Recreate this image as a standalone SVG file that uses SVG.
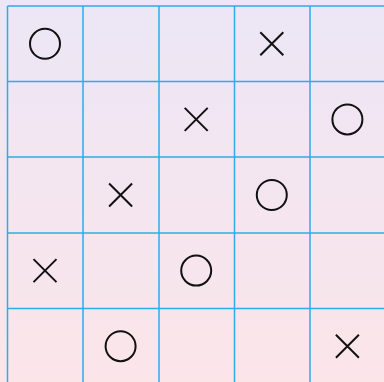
<svg xmlns="http://www.w3.org/2000/svg" width="384" height="382" viewBox="0 0 384 382">
<defs>
<linearGradient id="bg" x1="0" y1="0" x2="0" y2="1">
<stop offset="0" stop-color="#ece6f6"/>
<stop offset="1" stop-color="#fbe5e9"/>
</linearGradient>
<style>
.g{stroke:#2aaee6;stroke-width:1.5;fill:none}
.o{fill:none;stroke:#111;stroke-width:2}
.x{stroke:#111;stroke-width:2;fill:none}
</style>
</defs>
<rect x="0" y="0" width="384" height="382" fill="url(#bg)"/>
<g id="grid" class="g">
<line x1="7.5" y1="6" x2="7.5" y2="382"/>
<line x1="83" y1="6" x2="83" y2="382"/>
<line x1="159" y1="6" x2="159" y2="382"/>
<line x1="234.5" y1="6" x2="234.5" y2="382"/>
<line x1="310" y1="6" x2="310" y2="382"/>
<line x1="7.5" y1="6" x2="384" y2="6"/>
<line x1="7.5" y1="81.5" x2="384" y2="81.5"/>
<line x1="7.5" y1="157" x2="384" y2="157"/>
<line x1="7.5" y1="233" x2="384" y2="233"/>
<line x1="7.5" y1="308.5" x2="384" y2="308.5"/>
</g>
<g id="marks">
<circle id="o1" class="o" cx="45" cy="43.8" r="15"/>
<path id="x1" class="x" d="M260.3 32.3L283.3 55.3M283.3 32.3L260.3 55.3"/>
<path id="x2" class="x" d="M184.7 107.9L207.7 130.9M207.7 107.9L184.7 130.9"/>
<circle id="o2" class="o" cx="347.4" cy="119.4" r="15"/>
<path id="x3" class="x" d="M109.1 183.5L132.1 206.5M132.1 183.5L109.1 206.5"/>
<circle id="o3" class="o" cx="271.8" cy="195" r="15"/>
<path id="x4" class="x" d="M33.5 259.1L56.5 282.1M56.5 259.1L33.5 282.1"/>
<circle id="o4" class="o" cx="196.2" cy="270.6" r="15"/>
<circle id="o5" class="o" cx="120.6" cy="346.2" r="15"/>
<path id="x5" class="x" d="M335.9 334.7L358.9 357.7M358.9 334.7L335.9 357.7"/>
</g>
</svg>
